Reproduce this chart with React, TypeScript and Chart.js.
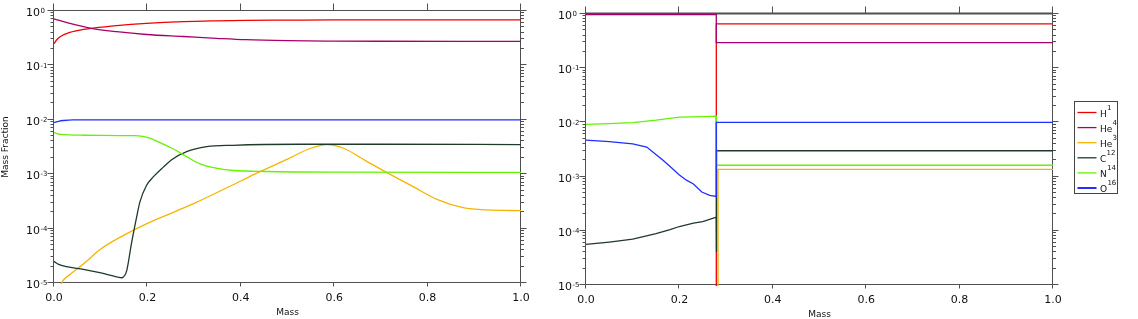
import React, { useEffect, useRef } from 'react';
import { Chart, registerables } from 'chart.js';

Chart.register(...registerables);

// ---------- labels / styling ----------
const ELEMENTS = ['H', 'He', 'He', 'C', 'N', 'O'];
const ISOTOPES = ['1', '4', '3', '12', '14', '16'];
const COLORS = ['#f00000', '#a8006a', '#f5b400', '#1e3a28', '#66f200', '#1f2fff'];

const X_TICKS = [0, 0.2, 0.4, 0.6, 0.8, 1.0];
const X_TICK_LABELS = ['0.0', '0.2', '0.4', '0.6', '0.8', '1.0'];
const Y_DECADES = [0, -1, -2, -3, -4, -5];
const X_TITLE = 'Mass';
const Y_TITLE = 'Mass Fraction';

// ---------- left panel data ----------
const leftH1Mass = [0, 0.005, 0.013, 0.034, 0.063, 0.08, 0.134, 0.198, 0.277, 0.348, 0.41, 0.5, 0.6, 0.7, 0.8, 1.0];
const leftH1 = [0.25, 0.29, 0.337, 0.405, 0.46, 0.48, 0.537, 0.59, 0.636, 0.66, 0.675, 0.68, 0.685, 0.685, 0.685, 0.685];

const leftHe4Mass = [0, 0.034, 0.08, 0.134, 0.198, 0.277, 0.348, 0.41, 0.5, 0.6, 0.7, 1.0];
const leftHe4 = [0.72, 0.59, 0.48, 0.417, 0.37, 0.34, 0.315, 0.297, 0.285, 0.28, 0.278, 0.277];

const leftHe3Mass = [0, 0.016, 0.035, 0.056, 0.08, 0.1, 0.15, 0.2, 0.3, 0.4, 0.44, 0.5, 0.55, 0.585, 0.62, 0.666, 0.712, 0.769, 0.82, 0.876, 0.926, 1.0];
const leftHe3 = [4e-6, 1e-5, 1.45e-5, 2.0e-5, 3.0e-5, 4.2e-5, 7.6e-5, 1.25e-4, 2.9e-4, 7.5e-4, 1.1e-3, 1.9e-3, 3.0e-3, 3.5e-3, 3.0e-3, 1.8e-3, 1.08e-3, 5.9e-4, 3.45e-4, 2.43e-4, 2.2e-4, 2.14e-4];

const leftC12Mass = [0, 0.01, 0.027, 0.063, 0.098, 0.134, 0.145, 0.152, 0.156, 0.166, 0.177, 0.184, 0.198, 0.213, 0.234, 0.252, 0.284, 0.327, 0.383, 0.527, 0.7, 1.0];
const leftC12 = [2.5e-5, 2.2e-5, 2.0e-5, 1.78e-5, 1.55e-5, 1.3e-5, 1.25e-5, 1.4e-5, 1.73e-5, 5.4e-5, 1.65e-4, 3.1e-4, 6.2e-4, 9.0e-4, 1.35e-3, 1.85e-3, 2.6e-3, 3.2e-3, 3.4e-3, 3.55e-3, 3.55e-3, 3.5e-3];

const leftN14Mass = [0, 0.014, 0.064, 0.17, 0.19, 0.205, 0.227, 0.256, 0.284, 0.3125, 0.35, 0.384, 0.455, 0.6, 1.0];
const leftN14 = [5.8e-3, 5.4e-3, 5.2e-3, 5.1e-3, 4.95e-3, 4.6e-3, 3.8e-3, 2.9e-3, 2.1e-3, 1.55e-3, 1.28e-3, 1.17e-3, 1.12e-3, 1.09e-3, 1.08e-3];

const leftO16Mass = [0, 0.01, 0.02, 0.04, 0.1, 1.0];
const leftO16 = [8.9e-3, 9.4e-3, 9.7e-3, 1.0e-2, 1.0e-2, 1.0e-2];

// ---------- right panel data ----------
const rightH1Mass = [0, 0.279, 0.279, 1.0];
const rightH1 = [1e-8, 1e-8, 0.66, 0.66];

const rightHe4Mass = [0, 0.279, 0.279, 1.0];
const rightHe4 = [0.98, 0.98, 0.296, 0.296];

const rightHe3Mass = [0, 0.2827, 0.2827, 1.0];
const rightHe3 = [1e-8, 1e-8, 1.36e-3, 1.36e-3];

const rightC12Mass = [0, 0.05, 0.1, 0.15, 0.18, 0.2, 0.23, 0.25, 0.279, 0.2795, 0.2795, 1.0];
const rightC12 = [5.6e-5, 6.2e-5, 7.0e-5, 8.9e-5, 1.05e-4, 1.2e-4, 1.38e-4, 1.47e-4, 1.78e-4, 4e-5, 3e-3, 3e-3];

const rightN14Mass = [0, 0.05, 0.1, 0.15, 0.2, 0.25, 0.279, 0.2795, 1.0];
const rightN14 = [9.2e-3, 9.5e-3, 9.9e-3, 1.1e-2, 1.25e-2, 1.28e-2, 1.3e-2, 1.62e-3, 1.62e-3];

const rightO16Mass = [0, 0.05, 0.1, 0.13, 0.151, 0.165, 0.18, 0.2, 0.215, 0.23, 0.248, 0.265, 0.279, 0.279, 1.0];
const rightO16 = [4.7e-3, 4.4e-3, 4.0e-3, 3.5e-3, 2.5e-3, 2.0e-3, 1.53e-3, 1.07e-3, 8.6e-4, 7.3e-4, 5.2e-4, 4.5e-4, 4.3e-4, 1.0e-2, 1.0e-2];

const LEFT_SERIES = [
  [leftH1Mass, leftH1],
  [leftHe4Mass, leftHe4],
  [leftHe3Mass, leftHe3],
  [leftC12Mass, leftC12],
  [leftN14Mass, leftN14],
  [leftO16Mass, leftO16],
];
const RIGHT_SERIES = [
  [rightH1Mass, rightH1],
  [rightHe4Mass, rightHe4],
  [rightHe3Mass, rightHe3],
  [rightC12Mass, rightC12],
  [rightN14Mass, rightN14],
  [rightO16Mass, rightO16],
];

const FONT = '"DejaVu Sans", Verdana, sans-serif';
const FRAME = '#505050';
const TEXT = '#111111';

type PanelCfg = {
  yTitle: boolean;
  legend: boolean;
  topBorder: number;
  xTitleOffset: number;
};

function makePlugin(cfg: PanelCfg) {
  return {
    id: 'customAxes',
    beforeDatasetsDraw(chart: any) {
      const { ctx, chartArea: a, scales } = chart;
      const xs = scales.x;
      const ys = scales.y;
      const L = Math.round(a.left) - 0.5;
      const R = Math.round(a.right) - 0.5;
      const T = Math.round(a.top) - 0.5;
      const B = Math.round(a.bottom) - 0.5;
      ctx.save();
      ctx.strokeStyle = FRAME;
      ctx.lineWidth = 1;
      ctx.beginPath();
      ctx.moveTo(L, T); ctx.lineTo(L, B); ctx.lineTo(R, B); ctx.lineTo(R, T);
      if (cfg.topBorder <= 1) ctx.lineTo(L, T);
      ctx.stroke();
      if (cfg.topBorder > 1) {
        ctx.lineWidth = cfg.topBorder;
        ctx.beginPath();
        ctx.moveTo(L - 0.5, Math.round(a.top) - 0.5);
        ctx.lineTo(R + 0.5, Math.round(a.top) - 0.5);
        ctx.stroke();
        ctx.lineWidth = 1;
      }
      // x ticks (top & bottom)
      ctx.beginPath();
      for (const v of X_TICKS) {
        const px = Math.round(xs.getPixelForValue(v)) - 0.5;
        ctx.moveTo(px, B); ctx.lineTo(px, B + 4);
        ctx.moveTo(px, T); ctx.lineTo(px, T - 7);
      }
      // y ticks (left & right), major + minor
      for (const k of Y_DECADES) {
        const py = Math.round(ys.getPixelForValue(Math.pow(10, k))) - 0.5;
        ctx.moveTo(L, py); ctx.lineTo(L - 6, py);
        ctx.moveTo(R, py); ctx.lineTo(R + 6, py);
        if (k < 0) {
          for (let m = 2; m <= 9; m++) {
            const pm = Math.round(ys.getPixelForValue(m * Math.pow(10, k))) - 0.5;
            ctx.moveTo(L, pm); ctx.lineTo(L - 3, pm);
            ctx.moveTo(R, pm); ctx.lineTo(R + 3.5, pm);
          }
        }
      }
      ctx.stroke();

      // x tick labels
      ctx.fillStyle = TEXT;
      ctx.font = `11px ${FONT}`;
      ctx.textAlign = 'center';
      ctx.textBaseline = 'middle';
      X_TICKS.forEach((v, i) => {
        ctx.fillText(X_TICK_LABELS[i], xs.getPixelForValue(v), a.bottom + 15.5);
      });
      // x title
      ctx.font = `9px ${FONT}`;
      ctx.fillText(X_TITLE, (a.left + a.right) / 2, a.bottom + cfg.xTitleOffset);

      // y tick labels with superscript exponents
      for (const k of Y_DECADES) {
        const py = ys.getPixelForValue(Math.pow(10, k));
        ctx.font = `11px ${FONT}`;
        ctx.textAlign = 'right';
        ctx.textBaseline = 'alphabetic';
        ctx.fillText('10', a.left - 14, py + 5);
        ctx.font = `7px ${FONT}`;
        ctx.textAlign = 'left';
        ctx.fillText(k === 0 ? '0' : `-${-k}`, a.left - 13.5, py + 2.2);
      }

      if (cfg.yTitle) {
        ctx.save();
        ctx.translate(6, (a.top + a.bottom) / 2);
        ctx.rotate(-Math.PI / 2);
        ctx.font = `9px ${FONT}`;
        ctx.textAlign = 'center';
        ctx.textBaseline = 'middle';
        ctx.fillText(Y_TITLE, 0, 0);
        ctx.restore();
      }
      ctx.restore();
    },
    afterDraw(chart: any) {
      if (!cfg.legend) return;
      const { ctx, chartArea: a } = chart;
      const bx = Math.round(a.right) + 21.5;
      const by = 101.5;
      ctx.save();
      ctx.strokeStyle = '#444';
      ctx.lineWidth = 1;
      ctx.fillStyle = '#fff';
      ctx.fillRect(bx, by, 43, 92);
      ctx.strokeRect(bx, by, 43, 92);
      ELEMENTS.forEach((el, i) => {
        const y = 112.5 + i * 15.1;
        ctx.strokeStyle = COLORS[i];
        ctx.lineWidth = i === 5 ? 2 : 1.3;
        ctx.beginPath();
        ctx.moveTo(bx + 3, y);
        ctx.lineTo(bx + 22, y);
        ctx.stroke();
        ctx.fillStyle = TEXT;
        ctx.font = `9px ${FONT}`;
        ctx.textAlign = 'left';
        ctx.textBaseline = 'alphabetic';
        ctx.fillText(el, bx + 25.5, y + 4.2);
        const w = ctx.measureText(el).width;
        ctx.font = `7px ${FONT}`;
        ctx.fillText(ISOTOPES[i], bx + 25.5 + w + 0.3, y - 3);
      });
      ctx.restore();
    },
  };
}

function buildConfig(series: any[], padding: any, cfg: PanelCfg, smooth: boolean): any {
  return {
    type: 'line',
    data: {
      datasets: series.map(([xs, ys], i) => ({
        label: ELEMENTS[i] + ISOTOPES[i],
        data: xs.map((x: number, j: number) => ({ x, y: ys[j] })),
        borderColor: COLORS[i],
        borderWidth: 1.3,
        pointRadius: 0,
        fill: false,
        order: series.length - i,
        clip: 1,
        cubicInterpolationMode: smooth ? 'monotone' : 'default',
        tension: 0,
      })),
    },
    options: {
      responsive: false,
      animation: false,
      devicePixelRatio: 1,
      layout: { padding },
      plugins: { legend: { display: false }, tooltip: { enabled: false } },
      events: [],
      scales: {
        x: { type: 'linear', min: 0, max: 1, display: false },
        y: { type: 'logarithmic', min: 1e-5, max: 1, display: false },
      },
    },
    plugins: [makePlugin(cfg)],
  };
}

export default function App() {
  const leftRef = useRef<HTMLCanvasElement>(null);
  const rightRef = useRef<HTMLCanvasElement>(null);

  useEffect(() => {
    const c1 = new Chart(
      leftRef.current as HTMLCanvasElement,
      buildConfig(LEFT_SERIES, { left: 54, right: 27, top: 11, bottom: 36 },
        { yTitle: true, legend: false, topBorder: 1, xTitleOffset: 30 }, true)
    );
    const c2 = new Chart(
      rightRef.current as HTMLCanvasElement,
      buildConfig(RIGHT_SERIES, { left: 38, right: 85, top: 14, bottom: 34 },
        { yTitle: false, legend: true, topBorder: 2, xTitleOffset: 30 }, false)
    );
    return () => {
      c1.destroy();
      c2.destroy();
    };
  }, []);

  return (
    <div style={{ position: 'absolute', left: 0, top: 0, width: 1138, height: 319, background: '#fff' }}>
      <canvas ref={leftRef} width={548} height={319} style={{ position: 'absolute', left: 0, top: 0 }} />
      <canvas ref={rightRef} width={590} height={319} style={{ position: 'absolute', left: 548, top: 0 }} />
    </div>
  );
}
